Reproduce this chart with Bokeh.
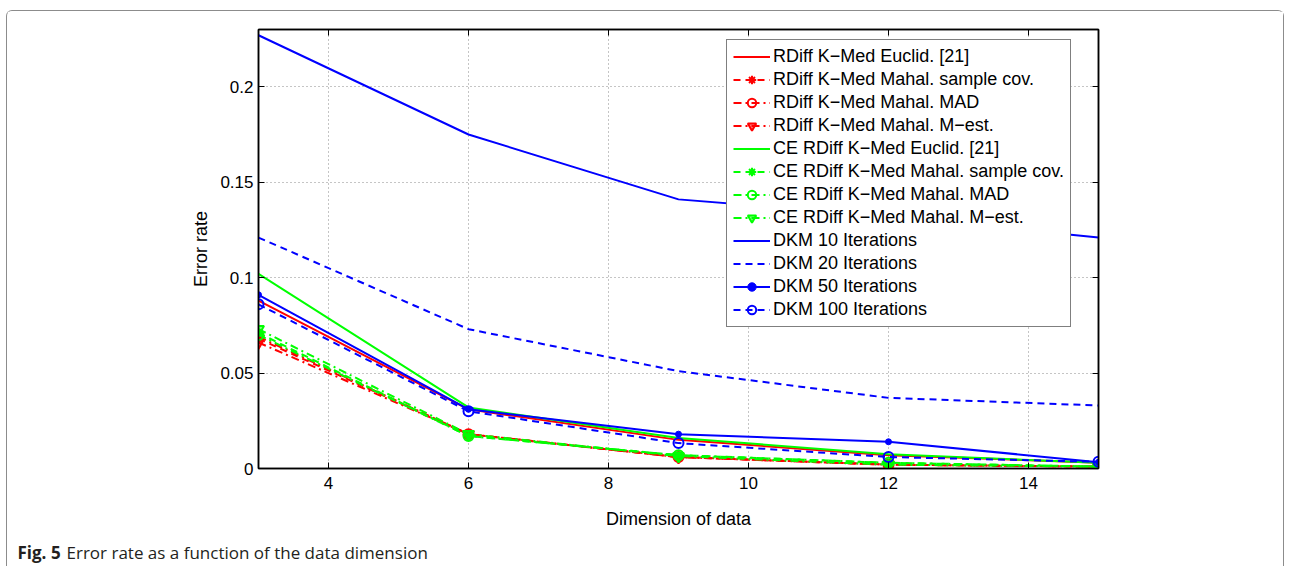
from bokeh.plotting import figure
from bokeh.layouts import column
from bokeh.models import (Range1d, FixedTicker, LinearAxis, CustomJSTickFormatter,
                          Legend, LegendItem)
from bokeh.core.properties import value
from bokeh.embed import file_html
from bokeh.resources import INLINE

# ---------------- data ----------------
dims = [3, 6, 9, 12, 15]

rdiff_euclid    = [0.088, 0.031, 0.015, 0.007, 0.003]
rdiff_samplecov = [0.068, 0.018, 0.006, 0.002, 0.001]
rdiff_mad       = [0.069, 0.018, 0.006, 0.002, 0.001]
rdiff_mest      = [0.066, 0.018, 0.006, 0.002, 0.001]
ce_euclid       = [0.102, 0.032, 0.016, 0.0075, 0.003]
ce_samplecov    = [0.071, 0.017, 0.007, 0.003, 0.001]
ce_mad          = [0.070, 0.017, 0.007, 0.003, 0.001]
ce_mest         = [0.073, 0.018, 0.0065, 0.002, 0.001]
dkm10           = [0.227, 0.175, 0.141, 0.132, 0.121]
dkm20           = [0.121, 0.073, 0.051, 0.037, 0.033]
dkm50           = [0.091, 0.031, 0.018, 0.014, 0.0033]
dkm100          = [0.086, 0.030, 0.0133, 0.006, 0.0035]

labels = [
    "RDiff K\u2212Med Euclid. [21]",
    "RDiff K\u2212Med Mahal. sample cov.",
    "RDiff K\u2212Med Mahal. MAD",
    "RDiff K\u2212Med Mahal. M\u2212est.",
    "CE RDiff K\u2212Med Euclid. [21]",
    "CE RDiff K\u2212Med Mahal. sample cov.",
    "CE RDiff K\u2212Med Mahal. MAD",
    "CE RDiff K\u2212Med Mahal. M\u2212est.",
    "DKM 10 Iterations",
    "DKM 20 Iterations",
    "DKM 50 Iterations",
    "DKM 100 Iterations",
]

x_ticks = [4, 6, 8, 10, 12, 14]
y_ticks = [0, 0.05, 0.1, 0.15, 0.2]
y_tick_labels = ["0", "0.05", "0.1", "0.15", "0.2"]

x_label = "Dimension of data"
y_label = "Error rate"
caption_bold = "Fig. 5"
caption_rest = "Error rate as a function of the data dimension"

# ---------------- styles ----------------
RED, GREEN, BLUE = "#ff0000", "#00ff00", "#0000ff"
DASH = "7 5"
DASHDOT = "8 4 2 4"
FONT = "Liberation Sans"

series = [
    (rdiff_euclid,    RED,   "solid",  None),
    (rdiff_samplecov, RED,   DASH,     "asterisk"),
    (rdiff_mad,       RED,   DASHDOT,  "circle"),
    (rdiff_mest,      RED,   DASHDOT,  "inverted_triangle"),
    (ce_euclid,       GREEN, "solid",  None),
    (ce_samplecov,    GREEN, DASH,     "asterisk"),
    (ce_mad,          GREEN, DASHDOT,  "circle"),
    (ce_mest,         GREEN, DASHDOT,  "inverted_triangle"),
    (dkm10,           BLUE,  "solid",  None),
    (dkm20,           BLUE,  DASH,     None),
    (dkm50,           BLUE,  "solid",  "dot"),
    (dkm100,          BLUE,  DASH,     "circle"),
]

W = 1276
p = figure(width=W, height=525, output_backend="svg", toolbar_location=None,
           x_range=Range1d(3, 15), y_range=Range1d(0, 0.23),
           min_border_left=251, min_border_right=185,
           min_border_top=18, min_border_bottom=68)
p.frame_align = False
p.background_fill_color = "white"
p.border_fill_color = "white"
p.outline_line_color = "black"
p.outline_line_width = 1.5

for ax in (p.xaxis[0], p.yaxis[0]):
    ax.axis_line_color = "black"
    ax.axis_line_width = 1.5
    ax.major_tick_in = 6
    ax.major_tick_out = 0
    ax.major_tick_line_color = "black"
    ax.minor_tick_line_color = None
    ax.major_label_text_font = FONT
    ax.major_label_text_font_size = "17px"
    ax.major_label_text_color = "black"
    ax.axis_label_text_font = FONT
    ax.axis_label_text_font_size = "18px"
    ax.axis_label_text_font_style = "normal"
    ax.axis_label_text_color = "black"

p.xaxis.ticker = FixedTicker(ticks=x_ticks)
p.yaxis.ticker = FixedTicker(ticks=y_ticks)
p.yaxis.formatter = CustomJSTickFormatter(
    args=dict(vals=y_ticks, labs=y_tick_labels),
    code="""
    let best = 0;
    for (let i = 0; i < vals.length; i++) {
        if (Math.abs(vals[i] - tick) < Math.abs(vals[best] - tick)) best = i;
    }
    return labs[best];
    """)
p.xaxis.axis_label = x_label
p.yaxis.axis_label = y_label
p.xaxis.major_label_standoff = 8
p.yaxis.major_label_standoff = 5
p.xaxis.axis_label_standoff = 17
p.yaxis.axis_label_standoff = 6

blank = CustomJSTickFormatter(code="return '';")
top_ax = LinearAxis(ticker=FixedTicker(ticks=x_ticks), formatter=blank,
                    major_tick_in=6, major_tick_out=0, minor_tick_line_color=None,
                    axis_line_width=1.5, major_label_standoff=0)
right_ax = LinearAxis(ticker=FixedTicker(ticks=y_ticks), formatter=blank,
                      major_tick_in=6, major_tick_out=0, minor_tick_line_color=None,
                      axis_line_width=1.5, major_label_standoff=0)
p.add_layout(top_ax, "above")
p.add_layout(right_ax, "right")

for g in (p.xgrid[0], p.ygrid[0]):
    g.grid_line_color = "#8a8a8a"
    g.grid_line_dash = "1 3"
    g.grid_line_width = 1
p.xgrid.ticker = FixedTicker(ticks=x_ticks)
p.ygrid.ticker = FixedTicker(ticks=y_ticks)

items = []
for (vals, color, dash, marker), lab in zip(series, labels):
    rs = [p.line(dims, vals, line_color=color, line_width=2, line_dash=dash)]
    if marker == "dot":
        rs.append(p.scatter(dims, vals, marker="circle", size=6,
                            line_color=color, fill_color=color, line_width=1))
    elif marker == "circle":
        rs.append(p.scatter(dims, vals, marker="circle", size=10,
                            line_color=color, fill_color=None, line_width=2))
    elif marker == "asterisk":
        rs.append(p.scatter(dims, vals, marker="asterisk", size=8,
                            line_color=color, line_width=2))
    elif marker == "inverted_triangle":
        rs.append(p.scatter(dims, vals, marker="inverted_triangle", size=11,
                            line_color=color, fill_color=color, fill_alpha=0.5,
                            line_width=2))
    items.append(LegendItem(label=lab, renderers=rs))

legend = Legend(items=items, location=(468, 141))
legend.label_text_font = FONT
legend.label_text_font_size = "18px"
legend.label_text_color = "black"
legend.glyph_width = 37
legend.glyph_height = 21
legend.label_height = 21
legend.spacing = 2
legend.padding = 6
legend.margin = 0
legend.label_standoff = 3
legend.border_line_color = "black"
legend.border_line_width = 1.5
legend.background_fill_color = "white"
legend.background_fill_alpha = 1
p.add_layout(legend)

# ---------------- caption strip ----------------
CH = 30
cap = figure(width=W, height=CH, output_backend="svg", toolbar_location=None,
             x_range=Range1d(0, W), y_range=Range1d(0, CH),
             x_axis_type=None, y_axis_type=None, min_border=0)
cap.frame_align = False
cap.outline_line_color = None
cap.grid.visible = False
cap.background_fill_color = "white"
cap.border_fill_color = "white"
cap.text(x=[10], y=[14], text=[caption_bold], text_font=value("Open Sans"),
         text_font_size="17px", text_font_style="bold", text_color="#231f20",
         text_baseline="alphabetic")
cap.text(x=[59], y=[14], text=[caption_rest], text_font=value("Open Sans"),
         text_font_size="17px", text_color="#231f20", text_baseline="alphabetic")

frame_css = {
    "border-top": "1px solid #8c8c8c",
    "border-left": "1px solid #8c8c8c",
    "border-right": "1px solid #8c8c8c",
    "border-top-left-radius": "6px",
    "border-top-right-radius": "6px",
}
layout = column(p, cap, margin=(10, 0, 0, 6), styles=frame_css)

open("out.html", "w").write(file_html(layout, INLINE))
